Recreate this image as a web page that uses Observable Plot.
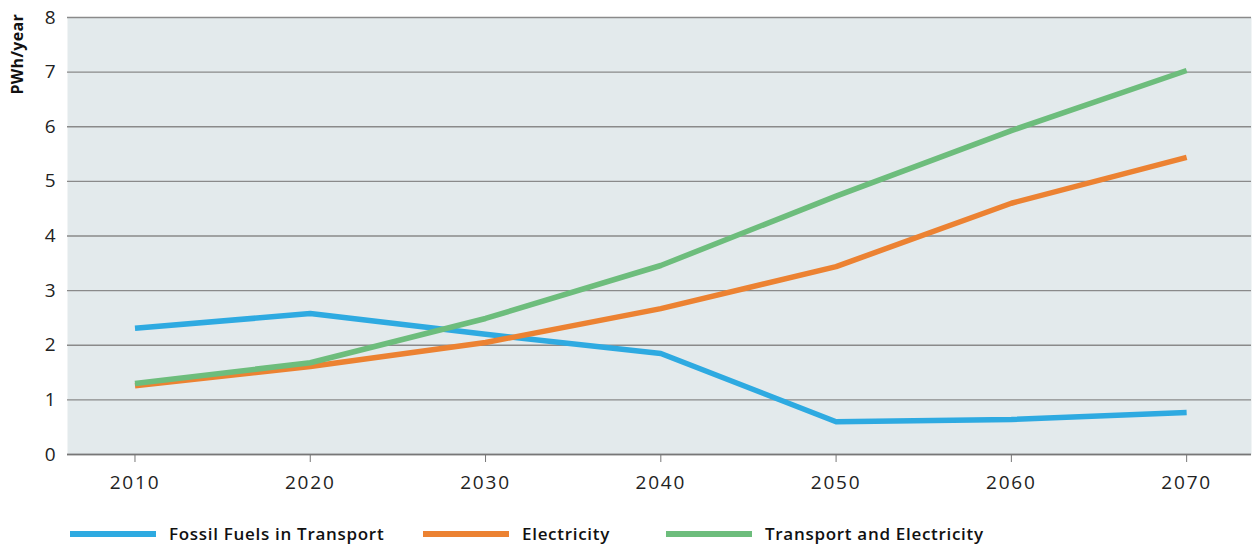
<!DOCTYPE html>
<html>
<head>
<meta charset="utf-8">
<script src="https://cdn.jsdelivr.net/npm/d3@7"></script>
<script src="https://cdn.jsdelivr.net/npm/@observablehq/plot@0.6"></script>
<style>
  body { margin: 0; background: #fff; font-family: "Open Sans", sans-serif; }
  #chart { position: relative; width: 1255px; }
  .ylabel { position: absolute; left: 6px; top: 14px; font-size: 16px; font-weight: 700; color: #111;
            writing-mode: vertical-rl; transform: rotate(180deg); transform-origin: center; letter-spacing: 0.3px; }
  .legend { position: relative; margin-top: 17px; height: 24px; font-size: 17px; font-weight: 600; color: #111; letter-spacing: 0.7px; }
  .item { display: flex; align-items: center; position: absolute; top: 0; }
  .sw { height: 6px; display: inline-block; margin-right: 13px; width: 86px; }
</style>
</head>
<body>
<div id="chart"></div>
<script>
const years = [2010, 2020, 2030, 2040, 2050, 2060, 2070];
const seriesNames = ["Fossil Fuels in Transport", "Electricity", "Transport and Electricity"];
const fossil = [2.31, 2.58, 2.2, 1.85, 0.6, 0.64, 0.77];
const electricity = [1.26, 1.61, 2.05, 2.67, 3.44, 4.6, 5.44];
const transportElec = [1.3, 1.68, 2.49, 3.46, 4.73, 5.93, 7.03];
const colors = ["#2eaae1", "#ec8232", "#6dbd7c"];
const yTicks = [0, 1, 2, 3, 4, 5, 6, 7, 8];

const valuesBySeries = [fossil, electricity, transportElec];
const data = [];
seriesNames.forEach((s, i) => years.forEach((y, j) => data.push({series: s, year: y, value: valuesBySeries[i][j]})));

const plot = Plot.plot({
  width: 1255,
  height: 505,
  marginLeft: 67,
  marginRight: 4,
  marginTop: 17,
  marginBottom: 51,
  style: { fontFamily: "'Open Sans', sans-serif", fontSize: "19px", color: "#222", background: "#fff", letterSpacing: "1.8px" },
  x: { domain: [2006.15, 2073.7], ticks: years, tickFormat: d => String(d), label: null },
  y: { domain: [0, 8], ticks: yTicks, label: null },
  color: { domain: seriesNames, range: colors },
  marks: [
    Plot.frame({ fill: "#e3eaec", stroke: null }),
    Plot.gridY(yTicks, { stroke: "#8a8a8a", strokeOpacity: 1, strokeWidth: 1.3 }),
    Plot.axisY({ ticks: yTicks, tickSize: 0, tickPadding: 10, fontSize: 19, label: null }),
    Plot.axisX({ ticks: years, tickSize: 8, tickPadding: 13, fontSize: 19, stroke: "#777", tickFormat: d => String(d), label: null }),
    Plot.ruleY([0], { stroke: "#777", strokeWidth: 1.5 }),
    Plot.line(data, { x: "year", y: "value", z: "series", stroke: "series", strokeWidth: 5.5, strokeLinejoin: "round", strokeLinecap: "butt" })
  ]
});

const chart = document.getElementById("chart");
chart.appendChild(plot);
const yl = document.createElement("div");
yl.className = "ylabel";
yl.textContent = "PWh/year";
chart.appendChild(yl);

const legend = document.createElement("div");
legend.className = "legend";
const lefts = [70, 423, 666];
seriesNames.forEach((s, i) => {
  const it = document.createElement("div");
  it.className = "item";
  it.style.left = lefts[i] + "px";
  const sw = document.createElement("span");
  sw.className = "sw";
  sw.style.background = colors[i];
  const t = document.createElement("span");
  t.textContent = s;
  it.appendChild(sw); it.appendChild(t);
  legend.appendChild(it);
});
chart.appendChild(legend);
</script>
</body>
</html>
